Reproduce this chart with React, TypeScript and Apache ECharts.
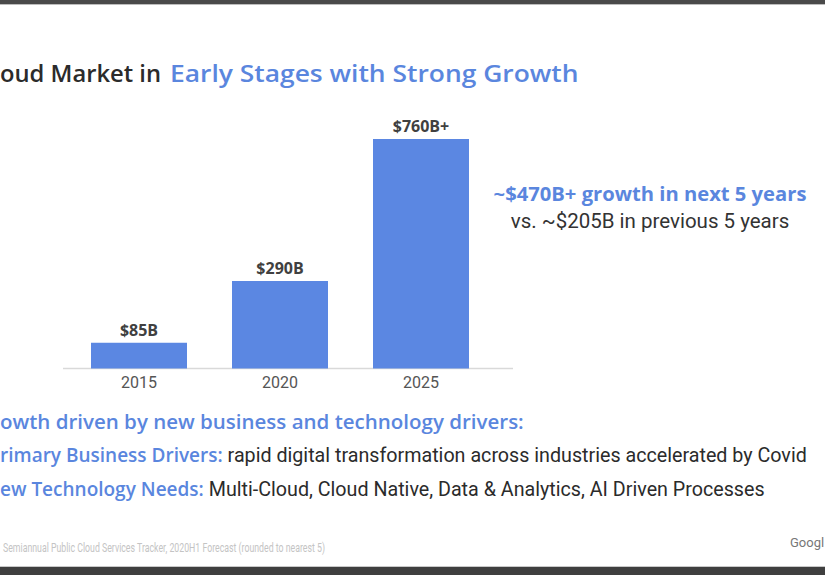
import React, { useEffect, useRef } from 'react';
import * as echarts from 'echarts';

// Public cloud market size by year (US$ billions)
const years = ['2015', '2020', '2025'];
const marketSize = [85, 290, 760];
const sizeLabels = ['$85B', '$290B', '$760B+'];

const titleDark = 'oud Market in';
const titleBlue = 'Early Stages with Strong Growth';
const growthHeadline = '~$470B+ growth in next 5 years';
const growthCompare = 'vs. ~$205B in previous 5 years';
const driversHeading = 'owth driven by new business and technology drivers:';
const driverRows = [
  ['rimary Business Drivers:', ' rapid digital transformation across industries accelerated by Covid'],
  ['ew Technology Needs:', ' Multi-Cloud, Cloud Native, Data & Analytics, AI Driven Processes'],
];
const sourceNote = 'Semiannual Public Cloud Services Tracker, 2020H1 Forecast (rounded to nearest 5)';
const brand = 'Googl';

const HEAD_FONT = '"Open Sans", Roboto, sans-serif';
const BODY_FONT = 'Roboto, "Open Sans", sans-serif';
const BLUE = '#5a86de';
const BAR = '#5b87e2';
const DARK = '#2b2b2b';

export default function App() {
  const ref = useRef<HTMLDivElement>(null);

  useEffect(() => {
    if (!ref.current) return;
    const chart = echarts.init(ref.current, undefined, { renderer: 'svg' });

    const W = 825;
    const H = 575;
    const axisY = 368.5;

    chart.setOption({
      animation: false,
      backgroundColor: '#ffffff',
      grid: { left: 68.5, right: W - 491.5, top: 126.9, bottom: H - axisY },
      xAxis: {
        type: 'category',
        data: years,
        axisLine: { show: false },
        axisTick: { show: false },
        axisLabel: { color: '#555', fontFamily: BODY_FONT, fontSize: 16, margin: 6 },
      },
      yAxis: {
        type: 'value',
        min: 0,
        max: 800,
        show: false,
        splitLine: { show: false },
      },
      series: [
        {
          type: 'bar',
          data: marketSize,
          barWidth: 96,
          itemStyle: { color: BAR },
          label: {
            show: true,
            position: 'top',
            distance: 5,
            color: '#404040',
            fontFamily: HEAD_FONT,
            fontWeight: 'bold',
            fontSize: 16,
            formatter: (p: any) => sizeLabels[p.dataIndex],
          },
        },
      ],
      graphic: [
        // slide frame bars
        { type: 'rect', shape: { x: 0, y: 0, width: W, height: 4 }, style: { fill: '#4a4a4a' } },
        { type: 'rect', shape: { x: 0, y: 4, width: W, height: 1 }, style: { fill: '#bdbdbd' } },
        { type: 'rect', shape: { x: 0, y: 566, width: W, height: 1 }, style: { fill: '#c8c8c8' } },
        { type: 'rect', shape: { x: 0, y: 567, width: W, height: 8 }, style: { fill: '#3f3f3f' } },
        // baseline
        {
          type: 'line',
          shape: { x1: 63, y1: axisY, x2: 513, y2: axisY },
          style: { stroke: '#d9d9d9', lineWidth: 1.5 },
        },
        // title
        {
          type: 'text',
          x: 0,
          y: 72,
          scaleX: 0.99,
          style: {
            text: titleDark,
            textVerticalAlign: 'middle',
            fontFamily: HEAD_FONT,
            fontSize: 24,
            fontWeight: 600,
            fill: DARK,
          },
        },
        {
          type: 'text',
          x: 170,
          y: 72,
          scaleX: 1.1,
          style: {
            text: titleBlue,
            textVerticalAlign: 'middle',
            fontFamily: HEAD_FONT,
            fontSize: 24,
            fontWeight: 600,
            fill: BLUE,
          },
        },
        {
          type: 'text',
          x: 650,
          y: 193,
          style: {
            text: growthHeadline,
            textAlign: 'center',
            textVerticalAlign: 'middle',
            fontFamily: HEAD_FONT,
            fontSize: 20.2,
            fontWeight: 'bold',
            fill: BLUE,
          },
        },
        {
          type: 'text',
          x: 650,
          y: 221,
          style: {
            text: growthCompare,
            textAlign: 'center',
            textVerticalAlign: 'middle',
            fontFamily: BODY_FONT,
            fontSize: 20.5,
            fill: '#333',
          },
        },
        {
          type: 'text',
          x: 0,
          y: 421,
          style: {
            text: driversHeading,
            textVerticalAlign: 'middle',
            fontFamily: HEAD_FONT,
            fontSize: 20.5,
            fontWeight: 600,
            fill: BLUE,
          },
        },
        ...driverRows.map((row, i) => ({
          type: 'text',
          x: 0,
          y: 455 + i * 34,
          style: {
            text: `{a|${row[0]}}{b|${row[1]}}`,
            textVerticalAlign: 'middle',
            rich: {
              a: { fontFamily: HEAD_FONT, fontSize: 19, fontWeight: 600, fill: BLUE, color: BLUE },
              b: { fontFamily: BODY_FONT, fontSize: 19.7, fill: DARK, color: DARK },
            },
          },
        })),
        {
          type: 'text',
          x: 3,
          y: 548,
          scaleX: 0.73,
          style: {
            text: sourceNote,
            textVerticalAlign: 'middle',
            fontFamily: BODY_FONT,
            fontSize: 12,
            fill: '#c4c4c4',
          },
        },
        {
          type: 'text',
          x: 790,
          y: 542,
          style: {
            text: brand,
            textVerticalAlign: 'middle',
            fontFamily: BODY_FONT,
            fontSize: 13,
            fill: '#777',
          },
        },
      ],
    });

    return () => chart.dispose();
  }, []);

  return (
    <div
      ref={ref}
      style={{ position: 'fixed', left: 0, top: 0, width: 825, height: 575 }}
    />
  );
}
